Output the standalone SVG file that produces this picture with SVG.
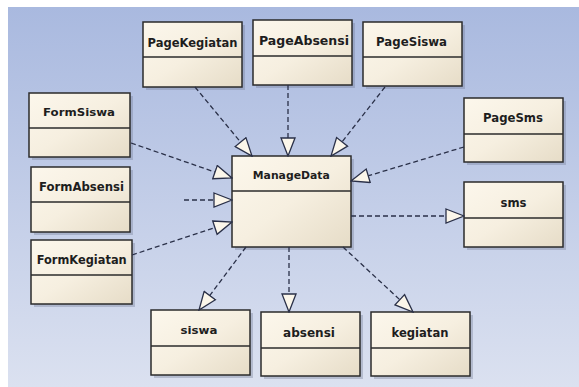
<svg xmlns="http://www.w3.org/2000/svg" width="579" height="387" viewBox="0 0 579 387">
<defs>
<linearGradient id="bg" x1="0" y1="0" x2="0" y2="1">
<stop offset="0" stop-color="#a9b9df"/>
<stop offset="1" stop-color="#dbe1f0"/>
</linearGradient>
<linearGradient id="nodefill" x1="0" y1="0" x2="1" y2="1">
<stop offset="0" stop-color="#fcf7ec"/>
<stop offset="0.5" stop-color="#f6efe0"/>
<stop offset="1" stop-color="#e6dcc7"/>
</linearGradient>
<marker id="tri" markerUnits="userSpaceOnUse" viewBox="0 0 20 16" refX="19" refY="8" markerWidth="20" markerHeight="16" orient="auto">
<path d="M1,1 L19,8 L1,15 Z" fill="#fbf6ea" stroke="#2a3048" stroke-width="1.3"/>
</marker>
</defs>
<style>
.shadow{fill:#6f7892;opacity:0.35}
.box{fill:url(#nodefill);stroke:#2b2b2b;stroke-width:1.5}
.div{stroke:#2b2b2b;stroke-width:1.5}
.lbl{font-family:"DejaVu Sans","Liberation Sans",sans-serif;font-weight:bold;fill:#1e1e1e;text-anchor:middle}
.con{fill:none;stroke:#2a3048;stroke-width:1.3;stroke-dasharray:5,3;marker-end:url(#tri)}
</style>
<rect x="0" y="0" width="579" height="387" fill="#ffffff"/>
<rect x="8" y="7" width="571" height="380" fill="url(#bg)"/>

<g id="PageKegiatan">
<rect class="shadow" x="146" y="25" width="99" height="65"/>
<rect class="box" x="143" y="22" width="99" height="65"/>
<line class="div" x1="143" y1="57" x2="242" y2="57"/>
<text class="lbl" x="192.5" y="46.5" font-size="12.5" textLength="90" lengthAdjust="spacingAndGlyphs">PageKegiatan</text>
</g>
<g id="PageAbsensi">
<rect class="shadow" x="256" y="23" width="99" height="65"/>
<rect class="box" x="253" y="20" width="99" height="65"/>
<line class="div" x1="253" y1="56" x2="352" y2="56"/>
<text class="lbl" x="304" y="45" font-size="12.5" textLength="90" lengthAdjust="spacingAndGlyphs">PageAbsensi</text>
</g>
<g id="PageSiswa">
<rect class="shadow" x="366" y="25" width="99" height="64"/>
<rect class="box" x="363" y="22" width="99" height="64"/>
<line class="div" x1="363" y1="57" x2="462" y2="57"/>
<text class="lbl" x="411.5" y="46" font-size="12.5" textLength="71" lengthAdjust="spacingAndGlyphs">PageSiswa</text>
</g>
<g id="PageSms">
<rect class="shadow" x="467" y="101" width="99" height="64"/>
<rect class="box" x="464" y="98" width="99" height="64"/>
<line class="div" x1="464" y1="134" x2="563" y2="134"/>
<text class="lbl" x="513" y="122.3" font-size="12.5" textLength="60" lengthAdjust="spacingAndGlyphs">PageSms</text>
</g>
<g id="sms">
<rect class="shadow" x="467" y="185" width="99" height="65"/>
<rect class="box" x="464" y="182" width="99" height="65"/>
<line class="div" x1="464" y1="218" x2="563" y2="218"/>
<text class="lbl" x="513.5" y="206.7" font-size="12" textLength="26" lengthAdjust="spacingAndGlyphs">sms</text>
</g>
<g id="FormSiswa">
<rect class="shadow" x="32" y="96" width="101" height="64"/>
<rect class="box" x="29" y="93" width="101" height="64"/>
<line class="div" x1="29" y1="128" x2="130" y2="128"/>
<text class="lbl" x="79" y="116" font-size="10" textLength="72" lengthAdjust="spacingAndGlyphs">FormSiswa</text>
</g>
<g id="FormAbsensi">
<rect class="shadow" x="34" y="170" width="99" height="65"/>
<rect class="box" x="31" y="167" width="99" height="65"/>
<line class="div" x1="31" y1="202" x2="130" y2="202"/>
<text class="lbl" x="81.5" y="191" font-size="12.5" textLength="85" lengthAdjust="spacingAndGlyphs">FormAbsensi</text>
</g>
<g id="FormKegiatan">
<rect class="shadow" x="34" y="243" width="101" height="64"/>
<rect class="box" x="31" y="240" width="101" height="64"/>
<line class="div" x1="31" y1="275" x2="132" y2="275"/>
<text class="lbl" x="81.7" y="264.3" font-size="12.5" textLength="90" lengthAdjust="spacingAndGlyphs">FormKegiatan</text>
</g>
<g id="ManageData">
<rect class="shadow" x="235" y="159" width="119" height="91"/>
<rect class="box" x="232" y="156" width="119" height="91"/>
<line class="div" x1="232" y1="191" x2="351" y2="191"/>
<text class="lbl" x="291.3" y="179.3" font-size="10.5" textLength="77" lengthAdjust="spacingAndGlyphs">ManageData</text>
</g>
<g id="siswa">
<rect class="shadow" x="154" y="313" width="99" height="65"/>
<rect class="box" x="151" y="310" width="99" height="65"/>
<line class="div" x1="151" y1="346" x2="250" y2="346"/>
<text class="lbl" x="199" y="334.3" font-size="10" textLength="37" lengthAdjust="spacingAndGlyphs">siswa</text>
</g>
<g id="absensi">
<rect class="shadow" x="264" y="315" width="99" height="64"/>
<rect class="box" x="261" y="312" width="99" height="64"/>
<line class="div" x1="261" y1="348" x2="360" y2="348"/>
<text class="lbl" x="309" y="336.7" font-size="12" textLength="52" lengthAdjust="spacingAndGlyphs">absensi</text>
</g>
<g id="kegiatan">
<rect class="shadow" x="374" y="315" width="99" height="64"/>
<rect class="box" x="371" y="312" width="99" height="64"/>
<line class="div" x1="371" y1="348" x2="470" y2="348"/>
<text class="lbl" x="420" y="336.7" font-size="11.5" textLength="57" lengthAdjust="spacingAndGlyphs">kegiatan</text>
</g>

<g id="connectors">
<line class="con" x1="195" y1="87" x2="252" y2="156"/>
<line class="con" x1="288" y1="85" x2="288" y2="156"/>
<line class="con" x1="385" y1="87" x2="331" y2="156"/>
<line class="con" x1="464" y1="147" x2="351" y2="181"/>
<line class="con" x1="131" y1="143" x2="232" y2="178"/>
<line class="con" x1="184" y1="200" x2="232" y2="200"/>
<line class="con" x1="132" y1="255" x2="232" y2="222"/>
<line class="con" x1="246" y1="247" x2="199" y2="310"/>
<line class="con" x1="289" y1="247" x2="289" y2="312"/>
<line class="con" x1="343" y1="247" x2="413" y2="312"/>
<line class="con" x1="351" y1="216" x2="464" y2="216"/>
</g>
</svg>
